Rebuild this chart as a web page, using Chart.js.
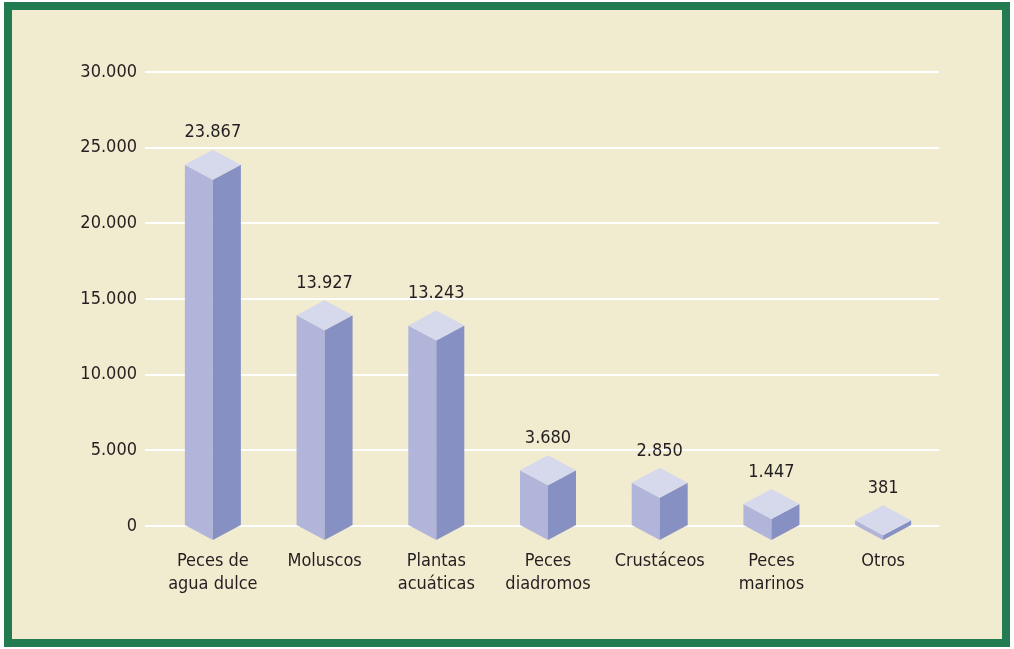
<!DOCTYPE html>
<html>
<head>
<meta charset="utf-8">
<script src="https://cdn.jsdelivr.net/npm/chart.js@4/dist/chart.umd.min.js"></script>
<style>
  html, body { margin: 0; padding: 0; background: #ffffff; }
  #frame {
    position: absolute; left: 4px; top: 2px; width: 990px; height: 629px;
    border: 8px solid #237b51; background: #f1ebd0;
  }
  #wrap { position: absolute; left: 0; top: 0; width: 1014px; height: 649px; }
</style>
</head>
<body>
<div id="frame"></div>
<div id="wrap"><canvas id="myBarChart"></canvas></div>
<script>
// datos (toneladas)
var categorias = [
  ['Peces de', 'agua dulce'],
  'Moluscos',
  ['Plantas', 'acuáticas'],
  ['Peces', 'diadromos'],
  'Crustáceos',
  ['Peces', 'marinos'],
  'Otros'
];
var valores = [23867, 13927, 13243, 3680, 2850, 1447, 381];
var ejeMax = 30000;
var ejePaso = 5000;

var fuente = "'DejaVu Sans Condensed', 'Liberation Sans Narrow', sans-serif";
var colorTexto = '#231f20';

function numeroEs(v) {
  return v.toString().replace(/\B(?=(\d{3})+(?!\d))/g, '.');
}

// dibuja cada barra como un prisma (frente, lado, tapa)
var barras3d = {
  id: 'barras3d',
  afterDatasetsDraw: function(chart) {
    var ctx = chart.ctx;
    var meta = chart.getDatasetMeta(0);
    var w = 28, d = 15;
    meta.data.forEach(function(bar, i) {
      var x = bar.x, y = bar.y, b = bar.base;
      ctx.save();
      ctx.fillStyle = '#b0b5d9';
      ctx.beginPath();
      ctx.moveTo(x - w, y); ctx.lineTo(x, y + d); ctx.lineTo(x, b + d); ctx.lineTo(x - w, b);
      ctx.closePath(); ctx.fill();
      ctx.fillStyle = '#8690c2';
      ctx.beginPath();
      ctx.moveTo(x, y + d); ctx.lineTo(x + w, y); ctx.lineTo(x + w, b); ctx.lineTo(x, b + d);
      ctx.closePath(); ctx.fill();
      ctx.fillStyle = '#d6d8ec';
      ctx.beginPath();
      ctx.moveTo(x, y - d); ctx.lineTo(x + w, y); ctx.lineTo(x, y + d); ctx.lineTo(x - w, y);
      ctx.closePath(); ctx.fill();
      ctx.fillStyle = colorTexto;
      ctx.font = "18px " + fuente;
      ctx.textAlign = 'center';
      ctx.textBaseline = 'middle';
      ctx.fillText(numeroEs(valores[i]), x, y - d - 17);
      ctx.restore();
    });
  }
};

var ctx = document.getElementById("myBarChart");
var myBarChart = new Chart(ctx, {
  type: 'bar',
  data: {
    labels: categorias,
    datasets: [{
      data: valores,
      backgroundColor: 'rgba(0,0,0,0)',
      borderWidth: 0
    }],
  },
  options: {
    responsive: true,
    maintainAspectRatio: false,
    animation: false,
    layout: { padding: { top: 72, right: 75, bottom: 0, left: 0 } },
    plugins: { legend: { display: false }, tooltip: { enabled: false } },
    scales: {
      x: {
        grid: { display: false },
        border: { display: false },
        ticks: {
          color: colorTexto,
          font: { family: fuente, size: 18, lineHeight: 1.28 },
          padding: 16,
          maxRotation: 0,
          autoSkip: false
        },
        afterFit: function(scale) { scale.height = 123; }
      },
      y: {
        min: 0,
        max: ejeMax,
        border: { display: false },
        grid: { color: '#ffffff', lineWidth: 2, tickLength: 12 },
        ticks: {
          stepSize: ejePaso,
          color: colorTexto,
          font: { family: fuente, size: 18 },
          padding: 8,
          callback: function(v) { return numeroEs(v); }
        },
        afterFit: function(scale) { scale.width = 157; }
      }
    }
  },
  plugins: [barras3d]
});
</script>
</body>
</html>
